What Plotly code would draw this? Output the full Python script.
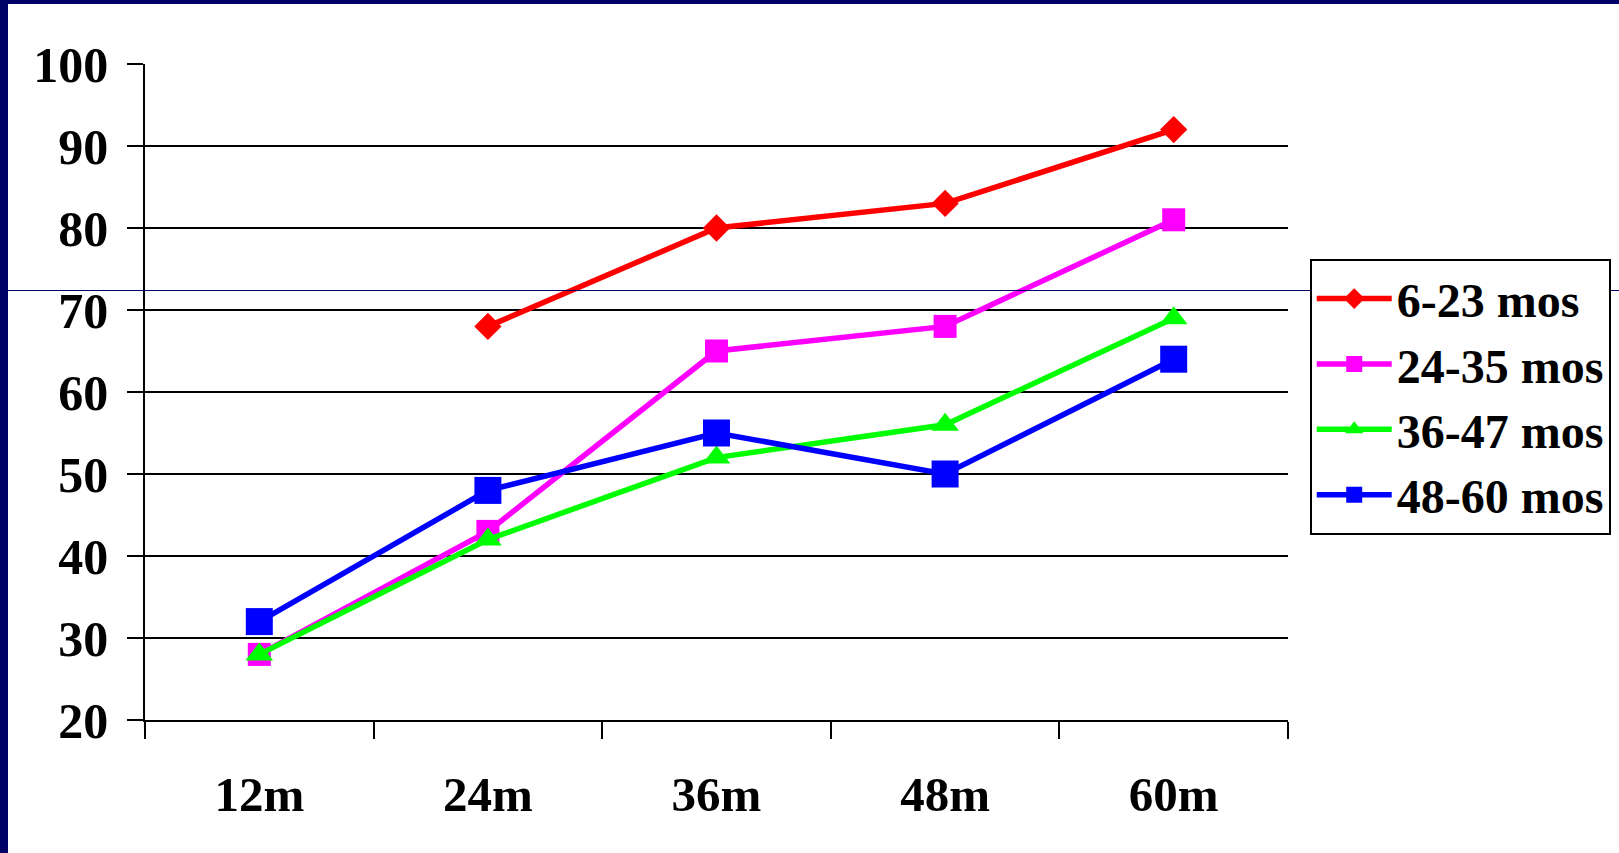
import plotly.graph_objects as go

categories = ["12m", "24m", "36m", "48m", "60m"]
s_6_23 = [None, 68, 80, 83, 92]
s_24_35 = [28, 43, 65, 68, 81]
s_36_47 = [28, 42, 52, 56, 69]
s_48_60 = [32, 48, 55, 50, 64]
y_ticks = [20, 30, 40, 50, 60, 70, 80, 90, 100]

series = [
    ("6-23 mos", s_6_23, "#FF0000", "diamond", 21),
    ("24-35 mos", s_24_35, "#FF00FF", "square", 23),
    ("36-47 mos", s_36_47, "#00FF00", "triangle-up", 24),
    ("48-60 mos", s_48_60, "#0000FF", "square", 27),
]

fig = go.Figure()
for name, vals, color, sym, size in series:
    fig.add_trace(go.Scatter(
        x=categories, y=vals, name=name, mode="lines+markers",
        line=dict(color=color, width=5.5),
        marker=dict(symbol=sym, size=size, color=color),
        connectgaps=False,
    ))

FONT = "Liberation Serif"
fig.update_layout(
    width=1619, height=853,
    margin=dict(l=145, r=331, t=64, b=133, autoexpand=False),
    paper_bgcolor="white", plot_bgcolor="white",
    font=dict(family=FONT, color="black"),
    showlegend=True,
    legend=dict(
        x=1.019, y=0.703, xanchor="left", yanchor="top",
        bordercolor="black", borderwidth=2, bgcolor="white",
        font=dict(family=FONT, size=48, color="black", weight="bold"),
        itemwidth=75, tracegroupgap=0,
    ),
    xaxis=dict(
        type="category", range=[-0.5, 4.5],
        tickson="boundaries", ticks="outside", ticklen=17, tickwidth=1.5, tickcolor="black",
        showline=True, linecolor="black", linewidth=1.5,
        showgrid=False, zeroline=False,
        tickfont=dict(family=FONT, size=49, color="black", weight="bold"),
        ticklabelstandoff=30,
    ),
    yaxis=dict(
        range=[20, 100], tickvals=y_ticks,
        ticks="outside", ticklen=16, tickwidth=2, tickcolor="black",
        showline=True, linecolor="black", linewidth=1.5,
        showgrid=True, gridcolor="black", gridwidth=2, zeroline=False,
        tickfont=dict(family=FONT, size=50, color="black", weight="bold"),
        ticklabelstandoff=9,
    ),
    shapes=[
        dict(type="rect", xref="paper", yref="paper", x0=-145/1143, x1=-137/1143,
             y0=-133/656, y1=(656+64)/656, fillcolor="#000066", line_width=0, layer="above"),
        dict(type="rect", xref="paper", yref="paper", x0=-145/1143, x1=(1143+331)/1143,
             y0=(656+60)/656, y1=(656+64)/656, fillcolor="#000066", line_width=0, layer="above"),
        dict(type="rect", xref="paper", yref="paper", x0=-137/1143, x1=(1143+331)/1143,
             y0=(720-291)/656, y1=(720-290)/656, fillcolor="#000066", line_width=0, layer="above"),
    ],
)

fig.write_html("out.html", config={"displayModeBar": False})
with open("out.html", "r", encoding="utf-8") as f:
    html = f.read()
html = html.replace("<head>", "<head><style>html,body{margin:0;padding:0;overflow:hidden}</style>", 1)
with open("out.html", "w", encoding="utf-8") as f:
    f.write(html)
